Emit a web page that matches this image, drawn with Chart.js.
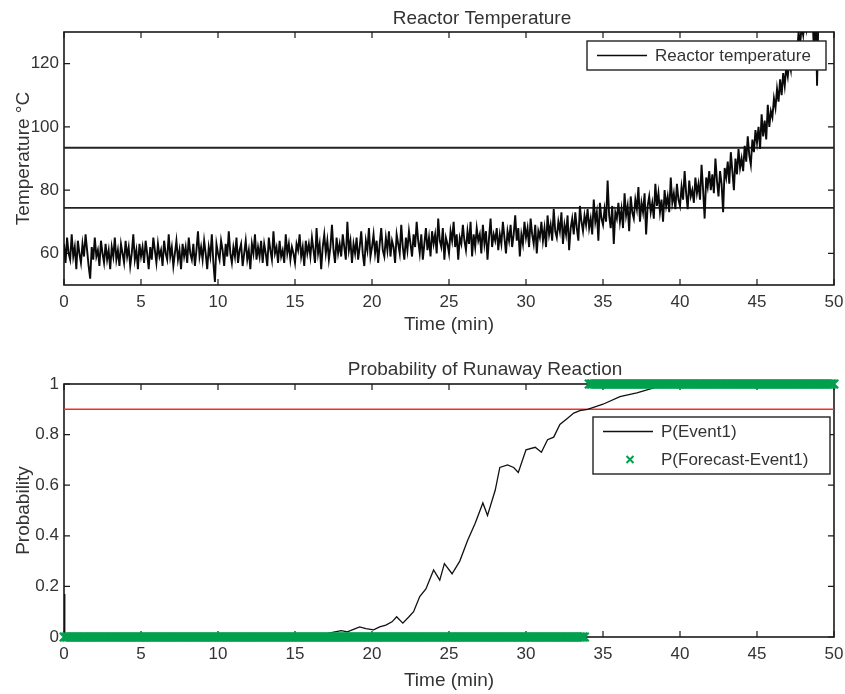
<!DOCTYPE html>
<html>
<head>
<meta charset="utf-8">
<title>Reactor Temperature</title>
<script src="https://cdn.jsdelivr.net/npm/chart.js@4.4.1/dist/chart.umd.min.js"></script>
<style>
  html, body { margin: 0; padding: 0; background: #fff; }
  #wrap { width: 845px; height: 694px; position: relative; }
  .box { position: absolute; left: 0; width: 845px; }
  #boxTemp { top: 0; height: 340px; }
  #boxProb { top: 340px; height: 354px; }
</style>
</head>
<body>
<div id="wrap">
  <div class="box" id="boxTemp"><canvas id="graficoTemperatura"></canvas></div>
  <div class="box" id="boxProb"><canvas id="graficoProbabilidad"></canvas></div>
</div>
<script>
// ejes
const timeTicks = [0, 5, 10, 15, 20, 25, 30, 35, 40, 45, 50];
const tempTicks = [60, 80, 100, 120];
const probTicks = [0, 0.2, 0.4, 0.6, 0.8, 1];

// temperatura del reactor, una lectura cada 0.1 min (una fila = 1 min)
const tempStep = 0.1;
const tempValues = [
  63, 57, 65, 60, 58, 66, 59, 62, 55, 64,
  60, 57, 63, 59, 66, 61, 56, 52, 62, 58,
  65, 59, 61, 56, 64, 60, 57, 63, 58, 61,
  55, 62, 59, 65, 58, 61, 56, 63, 60, 57,
  64, 59, 62, 56, 60, 66, 58, 61, 55, 63,
  59, 62, 57, 64, 60, 55, 62, 58, 65, 61,
  57, 63, 59, 61, 56, 64, 60, 58, 66, 59,
  62, 56, 60, 64, 58, 61, 55, 63, 59, 62,
  57, 65, 60, 58, 63, 56, 61, 67, 59, 62,
  58, 64, 60, 55, 62, 59, 66, 57, 51, 63,
  60, 58, 64, 61, 56, 63, 59, 67, 60, 57,
  62, 59, 65, 57, 61, 63, 56, 60, 64, 58,
  61, 55, 63, 60, 66, 58, 62, 59, 64, 57,
  63, 60, 56, 65, 61, 58, 67, 60, 62, 57,
  64, 59, 61, 57, 66, 60, 63, 58, 62, 60,
  57, 63, 61, 66, 59, 62, 56, 64, 60, 63,
  59, 65, 61, 57, 68, 60, 63, 55, 62, 66,
  60, 64, 58, 62, 69, 61, 57, 65, 60, 63,
  59, 66, 62, 58, 70, 61, 64, 57, 63, 60,
  65, 58, 62, 67, 60, 56, 64, 61, 68, 59,
  62, 66, 60, 64, 57, 63, 68, 61, 59, 65,
  61, 67, 59, 64, 62, 57, 66, 63, 60, 69,
  62, 58, 65, 61, 67, 63, 59, 66, 62, 70,
  64, 60, 66, 58, 63, 68, 61, 65, 59, 67,
  63, 66, 60, 71, 64, 62, 68, 58, 65, 63,
  60, 67, 64, 70, 62, 66, 58, 65, 63, 69,
  64, 61, 67, 63, 70, 59, 66, 62, 68, 64,
  66, 60, 69, 63, 67, 58, 65, 71, 62, 66,
  64, 68, 61, 66, 63, 70, 65, 60, 67, 64,
  69, 62, 66, 72, 64, 68, 59, 66, 63, 70,
  65, 68, 62, 71, 66, 63, 69, 60, 67, 65,
  70, 64, 68, 62, 72, 66, 69, 64, 74, 67,
  65, 70, 67, 73, 63, 69, 66, 72, 61, 68,
  71, 66, 73, 68, 64, 75, 70, 67, 72, 69,
  74, 68, 71, 66, 77, 70, 73, 64, 76, 71,
  69, 74, 70, 83, 72, 68, 75, 63, 73, 71,
  76, 70, 74, 68, 79, 72, 75, 67, 78, 73,
  71, 77, 74, 81, 70, 76, 73, 79, 66, 75,
  78, 73, 76, 71, 82, 75, 79, 73, 77, 70,
  80, 75, 78, 73, 84, 76, 79, 74, 82, 77,
  75, 81, 77, 86, 79, 74, 83, 78, 80, 76,
  84, 79, 82, 77, 88, 80, 71, 84, 81, 86,
  80, 85, 79, 90, 83, 78, 86, 82, 73, 87,
  84, 89, 82, 92, 86, 80, 90, 85, 93, 87,
  90, 86, 94, 89, 97, 91, 88, 96, 92, 99,
  95, 100, 93, 104, 97, 102, 96, 107, 100, 105,
  103, 109, 106, 112, 108, 115, 110, 117, 113, 119,
  116, 121, 118, 125, 120, 127, 123, 130, 126, 132,
  129, 134, 131, 137, 133, 139, 135, 124, 140, 113,
  138, 142, 136, 141, 144, 139, 146, 142, 148, 144,
  147
];
const tempLimits = [74.4, 93.4];

// probabilidad
const probTimes = [
  0, 0.05, 17.0, 17.2, 17.6, 18.0, 18.4, 18.8, 19.2, 19.6,
  20.1, 20.5, 20.9, 21.3, 21.6, 22.0, 22.4, 22.7, 23.1, 23.5,
  24.0, 24.4, 24.7, 25.2, 25.7, 26.2, 26.7, 27.2, 27.5, 28.0,
  28.3, 28.8, 29.2, 29.5, 30.0, 30.6, 31.0, 31.4, 31.8, 32.2,
  32.7, 33.1, 33.5, 34.0, 35.0, 36.1, 37.2, 38.3, 39.2, 40, 50
];
const probValues = [
  0.17, 0, 0, 0.015, 0.02, 0.025, 0.02, 0.03, 0.04, 0.033,
  0.028, 0.04, 0.047, 0.06, 0.08, 0.055, 0.08, 0.1, 0.16, 0.19,
  0.265, 0.225, 0.29, 0.25, 0.30, 0.38, 0.45, 0.53, 0.48, 0.58,
  0.67, 0.68, 0.67, 0.65, 0.74, 0.75, 0.73, 0.78, 0.79, 0.84,
  0.865, 0.885, 0.895, 0.9, 0.92, 0.95, 0.965, 0.985, 1, 1, 1
];
const probThreshold = 0.9;

// pronostico: [desde, hasta, valor], marcado cada 0.1 min
const forecastRuns = [[0, 33.8, 0], [34.1, 50, 1]];
const forecastStep = 0.1;

const fuente = "'Liberation Sans', Arial, sans-serif";
Chart.defaults.font.family = fuente;
Chart.defaults.color = '#333';

const forecastPoints = [];
forecastRuns.forEach(([t0, t1, v]) => {
    for (let t = t0; t <= t1 + 1e-9; t += forecastStep) {
        forecastPoints.push({ x: +t.toFixed(2), y: v });
    }
});

// Marco con ticks hacia adentro
const marcoEjes = {
    id: 'marcoEjes',
    beforeDatasetsDraw(chart) {
        const { ctx, chartArea: a, scales } = chart;
        ctx.save();
        ctx.strokeStyle = '#1a1a1a';
        ctx.lineWidth = 1.6;
        ctx.strokeRect(a.left, a.top, a.right - a.left, a.bottom - a.top);
        ctx.lineWidth = 1.2;
        ctx.beginPath();
        scales.x.ticks.forEach(t => {
            const px = scales.x.getPixelForValue(t.value);
            ctx.moveTo(px, a.bottom); ctx.lineTo(px, a.bottom - 6);
            ctx.moveTo(px, a.top); ctx.lineTo(px, a.top + 6);
        });
        scales.y.ticks.forEach(t => {
            const py = scales.y.getPixelForValue(t.value);
            ctx.moveTo(a.left, py); ctx.lineTo(a.left + 6, py);
            ctx.moveTo(a.right, py); ctx.lineTo(a.right - 6, py);
        });
        ctx.stroke();
        ctx.restore();
    }
};

// Titulo
const tituloGrafico = {
    id: 'tituloGrafico',
    afterDraw(chart, args, opts) {
        const ctx = chart.ctx;
        ctx.save();
        ctx.font = '19px ' + fuente;
        ctx.fillStyle = '#333';
        ctx.textAlign = 'center';
        ctx.textBaseline = 'alphabetic';
        ctx.fillText(opts.text, opts.x, opts.y);
        ctx.restore();
    }
};

// Leyenda con caja
const leyendaCaja = {
    id: 'leyendaCaja',
    afterDatasetsDraw(chart, args, opts) {
        const { ctx, chartArea: a } = chart;
        const items = chart.data.datasets.filter(d => d.label);
        const x = a.right - opts.right - opts.width;
        const y = a.top + opts.top;
        const h = opts.rowHeight * items.length + 1;
        ctx.save();
        ctx.fillStyle = '#fff';
        ctx.fillRect(x, y, opts.width, h);
        ctx.strokeStyle = '#222';
        ctx.lineWidth = 1.4;
        ctx.strokeRect(x, y, opts.width, h);
        ctx.font = '17px ' + fuente;
        ctx.textBaseline = 'middle';
        items.forEach((d, i) => {
            const cy = y + 0.5 + opts.rowHeight * (i + 0.5);
            ctx.strokeStyle = d.borderColor;
            if (d.showLine === false) {
                const cx = x + 37, r = 3.5;
                ctx.lineWidth = 2;
                ctx.beginPath();
                ctx.moveTo(cx - r, cy - r); ctx.lineTo(cx + r, cy + r);
                ctx.moveTo(cx - r, cy + r); ctx.lineTo(cx + r, cy - r);
                ctx.stroke();
            } else {
                ctx.lineWidth = 1.4;
                ctx.beginPath();
                ctx.moveTo(x + 10, cy); ctx.lineTo(x + 60, cy);
                ctx.stroke();
            }
            ctx.fillStyle = '#333';
            ctx.fillText(d.label, x + 68, cy + 1);
        });
        ctx.restore();
    }
};

function ejeTiempo(alto, pie) {
    return {
        type: 'linear',
        min: 0,
        max: 50,
        afterBuildTicks: s => { s.ticks = timeTicks.map(v => ({ value: v })); },
        afterFit: s => { s.height = alto; s.paddingLeft = 0; s.paddingRight = 0; },
        grid: { display: false, drawTicks: false },
        border: { display: false },
        ticks: { font: { size: 17 }, padding: 7, maxRotation: 0 },
        title: { display: true, text: 'Time (min)', font: { size: 19 }, padding: { top: 0, bottom: pie } }
    };
}

function ejeY(min, max, ticks, texto) {
    return {
        type: 'linear',
        min: min,
        max: max,
        afterBuildTicks: s => { s.ticks = ticks.map(v => ({ value: v })); },
        afterFit: s => { s.width = 64; s.paddingTop = 0; s.paddingBottom = 0; },
        grid: { display: false, drawTicks: false },
        border: { display: false },
        ticks: { font: { size: 17 }, padding: 5, callback: v => String(v) },
        title: { display: true, text: texto, font: { size: 19 }, padding: { top: 12, bottom: 0 } }
    };
}

document.addEventListener("DOMContentLoaded", () => {

    /* graficoTemperatura */
    new Chart(document.getElementById('graficoTemperatura'), {
        type: 'line',
        data: {
            datasets: [
                {
                    label: 'Reactor temperature',
                    data: tempValues.map((v, i) => ({ x: +(i * tempStep).toFixed(2), y: v })),
                    borderColor: '#0a0a0a',
                    borderWidth: 1.9,
                    pointRadius: 0,
                    tension: 0
                },
                ...tempLimits.map(v => ({
                    data: [{ x: 0, y: v }, { x: 50, y: v }],
                    borderColor: '#222',
                    borderWidth: 1.8,
                    pointRadius: 0
                }))
            ]
        },
        options: {
            responsive: true,
            maintainAspectRatio: false,
            animation: false,
            layout: { padding: { top: 32, right: 11, left: 0, bottom: 0 } },
            scales: {
                x: ejeTiempo(55, 4),
                y: ejeY(50, 130, tempTicks, 'Temperature °C')
            },
            plugins: {
                legend: { display: false },
                tooltip: { enabled: false },
                tituloGrafico: { text: 'Reactor Temperature', x: 482, y: 24 },
                leyendaCaja: { right: 8, top: 9, width: 239, rowHeight: 28 }
            }
        },
        plugins: [marcoEjes, tituloGrafico, leyendaCaja]
    });

    /* graficoProbabilidad */
    new Chart(document.getElementById('graficoProbabilidad'), {
        type: 'line',
        data: {
            datasets: [
                {
                    label: 'P(Event1)',
                    data: probTimes.map((t, i) => ({ x: t, y: probValues[i] })),
                    borderColor: '#111',
                    borderWidth: 1.3,
                    pointRadius: 0,
                    tension: 0
                },
                {
                    label: 'P(Forecast-Event1)',
                    data: forecastPoints,
                    showLine: false,
                    borderColor: '#00a04e',
                    backgroundColor: '#00a04e',
                    pointStyle: 'crossRot',
                    pointRadius: 6,
                    pointBorderWidth: 2,
                    clip: false,
                    order: -1
                },
                {
                    data: [{ x: 0, y: probThreshold }, { x: 50, y: probThreshold }],
                    borderColor: '#f03030',
                    borderWidth: 1.5,
                    pointRadius: 0
                }
            ]
        },
        options: {
            responsive: true,
            maintainAspectRatio: false,
            animation: false,
            layout: { padding: { top: 44, right: 11, left: 0, bottom: 0 } },
            scales: {
                x: ejeTiempo(57, 2),
                y: ejeY(0, 1, probTicks, 'Probability')
            },
            plugins: {
                legend: { display: false },
                tooltip: { enabled: false },
                tituloGrafico: { text: 'Probability of Runaway Reaction', x: 485, y: 35 },
                leyendaCaja: { right: 4, top: 33, width: 237, rowHeight: 28 }
            }
        },
        plugins: [marcoEjes, tituloGrafico, leyendaCaja]
    });

});
</script>
</body>
</html>
